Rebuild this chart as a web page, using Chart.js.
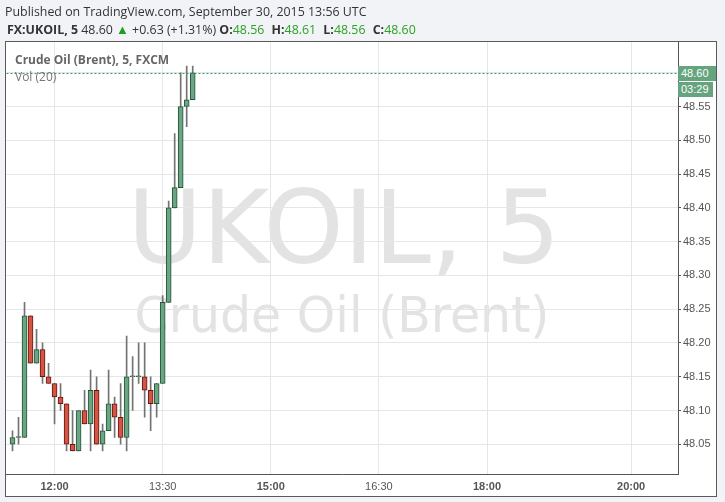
<!DOCTYPE html>
<html>
<head>
<meta charset="utf-8">
<script src="https://cdn.jsdelivr.net/npm/chart.js@4.4.0/dist/chart.umd.min.js"></script>
<style>
    html, body { margin: 0; padding: 0; background: #f1f3f6; }
    #wrap { position: relative; width: 725px; height: 502px; overflow: hidden; font-family: "Open Sans", sans-serif; }
    #frame { position: absolute; left: 5px; top: 41px; width: 712px; height: 456px; box-sizing: border-box; background: #fff; border: 1px solid #5a5a5a; }
    .mark { position: absolute; left: 8px; width: 672px; text-align: center; font-family: "DejaVu Sans", sans-serif; color: #e3e3e3; line-height: 1; white-space: nowrap; }
    #mark1 { top: 177px; font-size: 102px; }
    #mark2 { left: 6px; top: 291px; font-size: 49px; }
    #chart { position: absolute; left: 0; top: 0; }
    .txt { position: absolute; white-space: nowrap; line-height: 1; }
    #pub { left: 5px; top: 6px; font-size: 12.4px; color: #333; }
    #sym { left: 7px; top: 22.5px; font-size: 12.4px; color: #333; }
    #sym b { font-weight: bold; }
    #sym .k { margin-left: 4px; }
    .g { color: #2aa323; }
    .tri { color: #1d9f1d; font-size: 13px; }
    #legend1 { left: 15px; top: 54px; font-size: 12px; font-weight: bold; color: #666; }
    #legend2 { left: 15px; top: 71px; font-size: 12px; color: #777; }
    .tag { position: absolute; left: 678px; height: 15px; line-height: 15px; background: #65a47e; color: #fff;
           font-family: "Liberation Sans", Arial, sans-serif; font-size: 11px; padding-left: 3px; box-sizing: border-box; }
    #tagPrice { width: 38px; }
    #tagClock { width: 35px; }
</style>
</head>
<body>
<div id="wrap">
    <div id="frame"></div>
    <div class="mark" id="mark1">UKOIL, 5</div>
    <div class="mark" id="mark2">Crude Oil (Brent)</div>
    <canvas id="chart" width="725" height="502"></canvas>
    <div class="txt" id="pub">Published on TradingView.com, September 30, 2015 13:56 UTC</div>
    <div class="txt" id="sym"><b>FX:UKOIL, 5</b> 48.60 <span class="tri">▲</span> +0.63 (+1.31%) <b>O:</b><span class="g">48.56</span> <b class="k">H:</b><span class="g">48.61</span> <b class="k">L:</b><span class="g">48.56</span> <b class="k">C:</b><span class="g">48.60</span></div>
    <div class="txt" id="legend1">Crude Oil (Brent), 5, FXCM</div>
    <div class="txt" id="legend2">Vol (20)</div>
    <div class="tag" id="tagPrice">48.60</div>
    <div class="tag" id="tagClock">03:29</div>
</div>
<script>
// 5 minute candles
const times  = ['11:25', '11:30', '11:35', '11:40', '11:45', '11:50', '11:55', '12:00', '12:05', '12:10',
                '12:15', '12:20', '12:25', '12:30', '12:35', '12:40', '12:45', '12:50', '12:55', '13:00',
                '13:05', '13:10', '13:15', '13:20', '13:25', '13:30', '13:35', '13:40', '13:45', '13:50', '13:55'];
const opens  = [48.05, 48.06, 48.06, 48.24, 48.17, 48.19, 48.15, 48.14, 48.12, 48.11,
                48.05, 48.04, 48.10, 48.08, 48.13, 48.05, 48.07, 48.11, 48.09, 48.06,
                48.15, 48.15, 48.15, 48.13, 48.11, 48.14, 48.26, 48.40, 48.43, 48.55, 48.56];
const highs  = [48.07, 48.09, 48.26, 48.24, 48.22, 48.20, 48.17, 48.14, 48.14, 48.11,
                48.10, 48.10, 48.13, 48.16, 48.15, 48.08, 48.16, 48.12, 48.14, 48.21,
                48.18, 48.20, 48.20, 48.15, 48.14, 48.27, 48.41, 48.51, 48.60, 48.61, 48.61];
const lows   = [48.04, 48.05, 48.06, 48.17, 48.17, 48.14, 48.14, 48.08, 48.10, 48.04,
                48.04, 48.04, 48.08, 48.04, 48.05, 48.04, 48.07, 48.06, 48.05, 48.04,
                48.10, 48.14, 48.09, 48.07, 48.09, 48.14, 48.26, 48.40, 48.43, 48.52, 48.56];
const closes = [48.06, 48.06, 48.24, 48.17, 48.19, 48.15, 48.14, 48.12, 48.11, 48.05,
                48.04, 48.10, 48.08, 48.13, 48.05, 48.07, 48.11, 48.09, 48.06, 48.15,
                48.15, 48.15, 48.13, 48.11, 48.14, 48.26, 48.40, 48.43, 48.55, 48.56, 48.60];

const xTickLabels = ['12:00', '13:30', '15:00', '16:30', '18:00', '20:00'];
const yTickValues = [48.05, 48.10, 48.15, 48.20, 48.25, 48.30, 48.35, 48.40, 48.45, 48.50, 48.55, 48.60];

const UP = '#6ba583', UP_LINE = '#225437';
const DOWN = '#d75442', DOWN_LINE = '#5b1a13';

function toMin(s) {
    const [h, m] = s.split(':').map(Number);
    return h * 60 + m;
}
function fmtMin(v) {
    const h = Math.floor(v / 60), m = v % 60;
    return String(h).padStart(2, '0') + ':' + String(m).padStart(2, '0');
}

const isUp = closes.map((c, i) => c >= opens[i]);
const bodies = times.map((t, i) => ({ x: toMin(t), y: [opens[i], closes[i]] }));
const wicks  = times.map((t, i) => ({ x: toMin(t), y: [lows[i], highs[i]] }));

// dotted last-price line + the green price / countdown tags on the axis
const lastPrice = {
    id: 'lastPrice',
    afterDatasetsDraw(chart) {
        const { ctx, chartArea: a, scales: { y } } = chart;
        const py = Math.round(y.getPixelForValue(closes[closes.length - 1])) + 0.5;
        ctx.save();
        ctx.strokeStyle = '#2f9a58';
        ctx.lineWidth = 1;
        ctx.setLineDash([2, 2]);
        ctx.beginPath();
        ctx.moveTo(a.left, py);
        ctx.lineTo(a.right, py);
        ctx.stroke();
        ctx.restore();
        document.getElementById('tagPrice').style.top = (py - 8) + 'px';
        document.getElementById('tagClock').style.top = (py + 8) + 'px';
    }
};

const ctx = document.getElementById('chart').getContext('2d');
new Chart(ctx, {
    type: 'bar',
    data: {
        datasets: [
            {
                label: 'body',
                data: bodies,
                backgroundColor: isUp.map(u => u ? UP : DOWN),
                borderColor: isUp.map(u => u ? UP_LINE : DOWN_LINE),
                borderWidth: 1,
                borderSkipped: false,
                barThickness: 5,
                minBarLength: 1,
                grouped: false,
                order: 0
            },
            {
                label: 'wick',
                data: wicks,
                backgroundColor: '#737373',
                borderWidth: 0,
                barThickness: 1,
                grouped: false,
                order: 1
            }
        ]
    },
    options: {
        responsive: false,
        animation: false,
        events: [],
        layout: { padding: { left: 6.5, top: 42, right: 9, bottom: 6 } },
        plugins: { legend: { display: false }, tooltip: { enabled: false } },
        scales: {
            x: {
                type: 'linear',
                min: 680,
                max: 1239,
                offset: false,
                grid: { color: '#e6e6e6', drawTicks: false, offset: false },
                border: { color: '#555', width: 1 },
                afterBuildTicks: s => { s.ticks = xTickLabels.map(t => ({ value: toMin(t) })); },
                afterFit: s => { s.height = 22; },
                ticks: {
                    padding: 6,
                    maxRotation: 0,
                    color: '#555',
                    font: c => ({ family: "'Liberation Sans', Arial, sans-serif", size: 11,
                                  weight: c.tick && c.tick.value % 60 === 0 ? 'bold' : 'normal' }),
                    callback: v => fmtMin(v)
                }
            },
            y: {
                position: 'right',
                min: 48.006,
                max: 48.6455,
                grid: { color: '#e6e6e6', tickColor: '#555', tickLength: 3 },
                border: { color: '#555', width: 1 },
                afterBuildTicks: s => { s.ticks = yTickValues.map(v => ({ value: v })); },
                afterFit: s => { s.width = 38; },
                ticks: {
                    padding: 2,
                    color: '#555',
                    font: { family: "'Liberation Sans', Arial, sans-serif", size: 11 },
                    callback: v => v.toFixed(2)
                }
            }
        }
    },
    plugins: [lastPrice]
});
</script>
</body>
</html>
